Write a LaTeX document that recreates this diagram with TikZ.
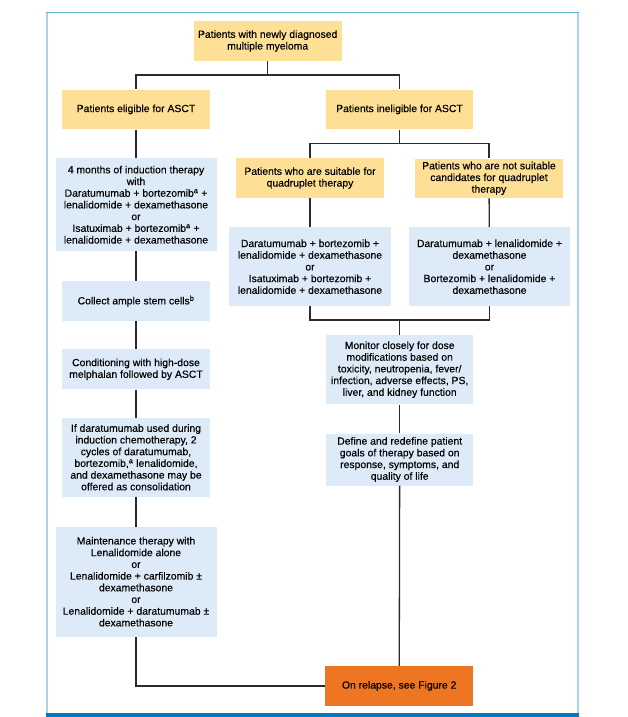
\documentclass[tikz,border=0pt]{standalone}
\usepackage{fontspec}
\setmainfont{Liberation Sans}[BoldFont={Liberation Sans}, BoldFeatures={FakeBold=0.3}]
\definecolor{cY}{HTML}{FDE096}
\definecolor{cB}{HTML}{DCEBF7}
\definecolor{cO}{HTML}{EE7623}
\definecolor{frameL}{HTML}{A8D3EA}
\definecolor{frameT}{HTML}{62B2DD}
\definecolor{frameB}{HTML}{0478B8}
\definecolor{conn}{HTML}{2B2B2B}
\begin{document}
\begin{tikzpicture}[x=1pt,y=-1pt,
  basebox/.style={draw=none, align=center, inner sep=2pt, text=black,
    font=\bfseries\fontsize{10.4}{11.7}\selectfont},
  ybx/.style={basebox, fill=cY},
  bbx/.style={basebox, fill=cB},
  obx/.style={basebox, fill=cO},
  link/.style={draw=conn, line width=1.3pt}]
\useasboundingbox (0,0) rectangle (627,717);
% frame
\draw[frameL, line width=1.6pt] (46.8,12.8) -- (46.8,713.5);
\draw[frameL, line width=1.6pt] (578,12.8) -- (578,713.5);
\draw[frameT, line width=1.1pt] (46,12.8) -- (578.8,12.8);
\fill[frameB] (46,713.3) rectangle (579,717);

% nodes
\node[ybx, minimum width=148pt, minimum height=40pt] (top) at (267.7,41)
  {Patients with newly diagnosed\\multiple myeloma};
\node[ybx, minimum width=147.6pt, minimum height=39.8pt] (elig) at (136,109.4)
  {Patients eligible for ASCT};
\node[ybx, minimum width=147.5pt, minimum height=39.8pt] (inelig) at (399.5,109.4)
  {Patients ineligible for ASCT};
\node[ybx, minimum width=148pt, minimum height=39.6pt] (suit) at (310,178)
  {Patients who are suitable for\\quadruplet therapy};
\node[ybx, minimum width=148pt, minimum height=39.6pt] (notsuit) at (489,178.3)
  {Patients who are not suitable\\candidates for quadruplet\\therapy};
\node[bbx, minimum width=161pt, minimum height=92.7pt] (induct) at (136,204.7)
  {4 months of induction therapy\\with\\Daratumumab + bortezomib\textsuperscript{a} +\\lenalidomide + dexamethasone\\or\\Isatuximab + bortezomib\textsuperscript{a} +\\lenalidomide + dexamethasone};
\node[bbx, minimum width=161.4pt, minimum height=78.7pt] (dara1) at (310,266.7)
  {Daratumumab + bortezomib +\\lenalidomide + dexamethasone\\or\\Isatuximab + bortezomib +\\lenalidomide + dexamethasone};
\node[bbx, minimum width=161pt, minimum height=78.7pt] (dara2) at (489.5,266.7)
  {Daratumumab + lenalidomide +\\dexamethasone\\or\\Bortezomib + lenalidomide +\\dexamethasone};
\node[bbx, minimum width=148pt, minimum height=39.7pt] (collect) at (136,301)
  {Collect ample stem cells\textsuperscript{b}};
\node[bbx, minimum width=148pt, minimum height=40pt] (cond) at (136,369.3)
  {Conditioning with high-dose\\melphalan followed by ASCT};
\node[bbx, minimum width=147.3pt, minimum height=69.3pt] (monitor) at (399.7,369.7)
  {Monitor closely for dose\\modifications based on\\toxicity, neutropenia, fever/\\infection, adverse effects, PS,\\liver, and kidney function};
\node[bbx, minimum width=148pt, minimum height=78.7pt] (ifdara) at (136,457.3)
  {If daratumumab used during\\induction chemotherapy, 2\\cycles of daratumumab,\\bortezomib,\textsuperscript{a} lenalidomide,\\and dexamethasone may be\\offered as consolidation};
\node[bbx, minimum width=147.3pt, minimum height=52pt] (define) at (399.7,459.5)
  {Define and redefine patient\\goals of therapy based on\\response, symptoms, and\\quality of life};
\node[bbx, minimum width=161pt, minimum height=110pt] (maint) at (136,581.7)
  {Maintenance therapy with\\Lenalidomide alone\\or\\Lenalidomide + carfilzomib \textpm\\dexamethasone\\or\\Lenalidomide + daratumumab \textpm\\dexamethasone};
\node[obx, minimum width=148.3pt, minimum height=39.7pt] (relapse) at (399.2,685.9)
  {On relapse, see Figure 2};

% junctions
\coordinate (j1) at (267.7,75);
\coordinate (j2) at (399.5,143.3);
\coordinate (j3) at (399.7,320);

% connectors
\draw[link] (top) -- (j1) -| (elig);
\draw[link] (j1) -| (inelig);
\draw[link] (inelig) -- (j2) -| (suit);
\draw[link] (j2) -| (notsuit);
\draw[link] (suit) -- (dara1);
\draw[link] (notsuit) -- (dara2);
\draw[link] (dara1) |- (j3);
\draw[link] (dara2) |- (j3);
\draw[link] (j3) -- (monitor);
\draw[link] (elig) -- (induct);
\draw[link] (induct) -- (collect);
\draw[link] (collect) -- (cond);
\draw[link] (cond) -- (ifdara);
\draw[link] (ifdara) -- (maint);
\draw[link] (monitor) -- (define);
\draw[link] (define) -- (relapse);
\draw[link] (maint) |- (relapse);
\end{tikzpicture}
\end{document}
